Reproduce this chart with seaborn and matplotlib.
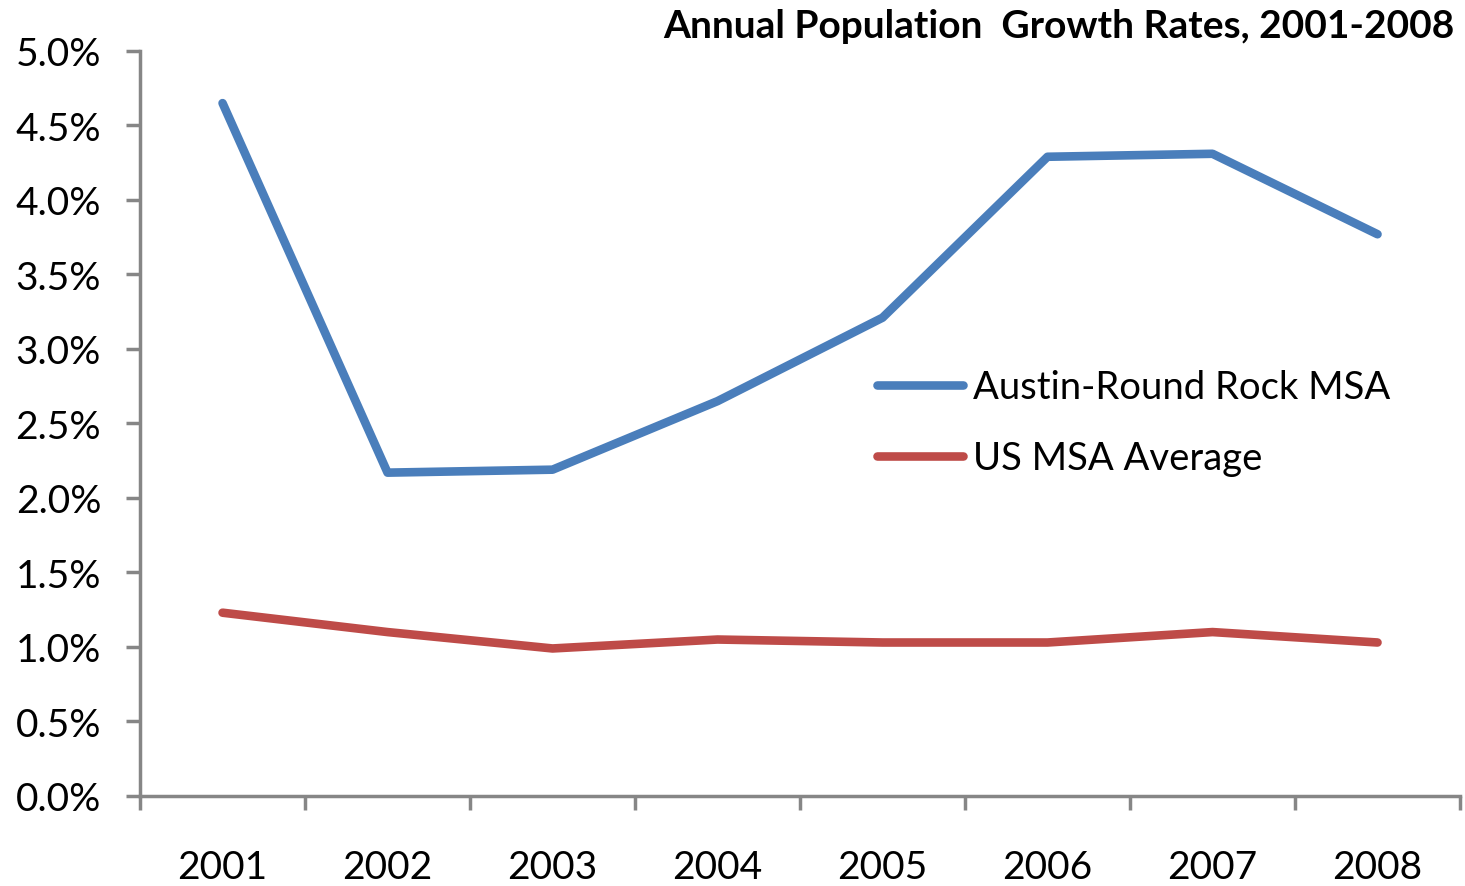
import pandas as pd
import numpy as np
import matplotlib.pyplot as plt
import seaborn as sns
from matplotlib.ticker import FuncFormatter, FixedLocator

sns.set_style("white")
plt.rcParams['font.family'] = ['Lato', 'DejaVu Sans']
plt.rcParams['text.color'] = 'black'

# данные
years = ['2001', '2002', '2003', '2004', '2005', '2006', '2007', '2008']
austin = [4.65, 2.17, 2.19, 2.65, 3.21, 4.29, 4.31, 3.77]
us_avg = [1.23, 1.10, 0.99, 1.05, 1.03, 1.03, 1.10, 1.03]
series_names = ['Austin-Round Rock MSA', 'US MSA Average']
colors = ['#4A7EBB', '#BE4B48']

df = pd.DataFrame({
    'Год': years * 2,
    'Рост': austin + us_avg,
    'Ряд': [series_names[0]] * len(years) + [series_names[1]] * len(years),
})

fig = plt.figure(figsize=(14.65, 8.87), dpi=100)
ax = fig.add_axes([0.0956, 0.1015, 0.9010, 0.8399])

sns.lineplot(data=df, x='Год', y='Рост', hue='Ряд', hue_order=series_names,
             palette=colors, linewidth=6.2, sort=False, ax=ax,
             solid_capstyle='round')

ax.set_xlim(-0.5, len(years) - 0.5)
ax.set_ylim(0, 5.0)
ax.set_yticks(np.arange(0, 5.01, 0.5))
ax.yaxis.set_major_formatter(FuncFormatter(lambda v, p: f'{v:.1f}%'))

# подписи по центру категорий, засечки на границах
ax.set_xticks(range(len(years)))
ax.set_xticklabels(years)
ax.tick_params(axis='x', which='major', length=0, pad=38, labelsize=28,
               labelcolor='black')
ax.xaxis.set_minor_locator(FixedLocator(np.arange(-0.5, len(years), 1.0)))
ax.tick_params(axis='x', which='minor', length=10, width=2.5, color='#868686',
               direction='out', bottom=True)
ax.tick_params(axis='y', length=10, width=2.5, color='#868686', direction='out',
               left=True, labelsize=28, pad=18, labelcolor='black')

for s in ['top', 'right']:
    ax.spines[s].set_visible(False)
for s in ['left', 'bottom']:
    ax.spines[s].set_color('#868686')
    ax.spines[s].set_linewidth(2.5)

ax.set_xlabel('')
ax.set_ylabel('')
ax.grid(False)

leg = ax.legend(loc='center left', bbox_to_anchor=(0.547, 0.501), frameon=False,
                fontsize=27.5, handlelength=2.25, handletextpad=0.25,
                labelspacing=0.92, borderaxespad=0)
for t in leg.get_texts():
    t.set_color('black')

fig.text(0.993, 0.97, 'Annual Population  Growth Rates, 2001-2008',
         ha='right', va='center', fontsize=28, fontweight='bold', color='black')

fig.savefig('out.png', dpi=100, facecolor='white')
